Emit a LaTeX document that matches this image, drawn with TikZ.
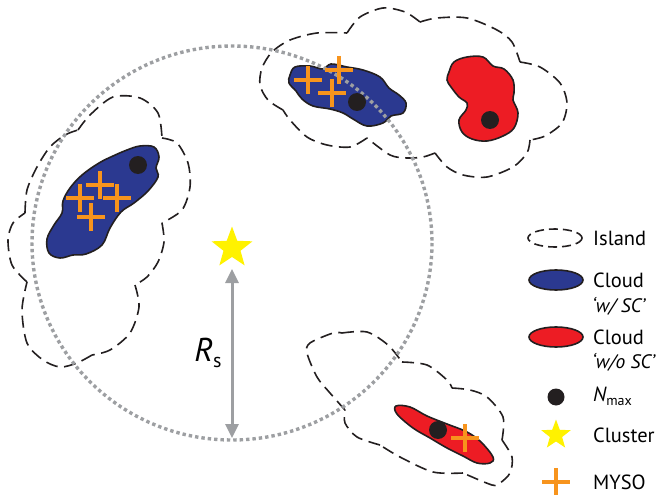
\documentclass[tikz,border=0pt]{standalone}
\usepackage{fontspec}
\setmainfont{PT Sans}
\usetikzlibrary{shapes.geometric,arrows.meta}
\definecolor{cblue}{HTML}{2B3990}
\definecolor{cred}{HTML}{ED1C24}
\definecolor{cyellow}{HTML}{FFF200}
\definecolor{corange}{HTML}{F7941D}
\definecolor{cgray}{HTML}{9D9FA2}
\definecolor{cdark}{HTML}{231F20}
\tikzset{
  island/.style={draw=cdark, line width=1.6pt, dash pattern=on 12pt off 6.5pt, line cap=butt},
  blueblob/.style={draw=cdark, line width=1.6pt, fill=cblue},
  redblob/.style={draw=cdark, line width=1.6pt, fill=cred},
  nmaxdot/.style={circle, fill=cdark, minimum size=18pt, inner sep=0pt},
  starnode/.style={star, star points=5, star point ratio=2.4, fill=cyellow, inner sep=0pt},
  crossline/.style={draw=corange, line width=3.4pt},
  myso/.pic={\draw[crossline] (-14,0) -- (14,0) (0,-14) -- (0,14);},
  legtext/.style={anchor=west, inner sep=0pt, font=\fontsize{20.5}{22}\selectfont},
  legsub/.style={anchor=west, inner sep=0pt, font=\itshape\fontsize{19.5}{21}\selectfont},
}
\begin{document}
\begin{tikzpicture}[x=1pt,y=-1pt]
\useasboundingbox (0,0) rectangle (662,495);

% ---------- islands ----------
% left island
\draw[island] plot[smooth] coordinates {(78,130) (90,115) (113,97) (140,98) (158,113) (162,138)};
\draw[island] plot[smooth] coordinates {(162,138) (177,143) (188,163) (190,187) (182,210) (162,223)};
\draw[island] plot[smooth] coordinates {(162,223) (164,242) (158,262) (147,277) (135,285)};
\draw[island] plot[smooth] coordinates {(135,285) (139,307) (130,333) (110,350) (92,355)};
\draw[island] plot[smooth] coordinates {(92,355) (77,363) (60,367) (43,360) (27,343) (22,310) (27,282)};
\draw[island] plot[smooth] coordinates {(27,282) (12,265) (8,240) (13,223) (25,213)};
\draw[island] plot[smooth] coordinates {(25,213) (27,190) (37,167) (50,147) (65,135) (78,130)};
% top island
\draw[island] plot[smooth] coordinates {(283,110) (268,100) (260,85) (262,68) (272,52) (290,40) (317,33) (347,33)};
\draw[island] plot[smooth] coordinates {(347,33) (360,17) (383,8) (405,12) (420,22)};
\draw[island] plot[smooth] coordinates {(420,22) (437,18) (467,18) (497,30) (512,42) (520,62)};
\draw[island] plot[smooth] coordinates {(520,62) (540,67) (560,83) (567,103) (562,123) (545,136) (530,140)};
\draw[island] plot[smooth] coordinates {(530,140) (527,153) (513,167) (487,177) (463,175) (447,167) (435,153)};
\draw[island] plot[smooth] coordinates {(435,153) (423,157) (407,158) (390,155) (367,138)};
\draw[island] plot[smooth] coordinates {(367,138) (350,147) (327,145) (307,137) (290,120) (283,110)};
% bottom island
\draw[island] plot[smooth] coordinates {(342,333) (367,332) (388,345) (402,362)};
\draw[island] plot[smooth] coordinates {(402,362) (427,365) (447,380) (452,388)};
\draw[island] plot[smooth] coordinates {(452,388) (470,390) (487,397) (503,417) (502,440)};
\draw[island] plot[smooth] coordinates {(502,440) (512,457) (510,473) (500,483) (492,485) (463,473)};
\draw[island] plot[smooth] coordinates {(463,473) (433,472) (400,457) (380,445)};
\draw[island] plot[smooth] coordinates {(380,445) (357,437) (345,423) (345,410)};
\draw[island] plot[smooth] coordinates {(345,410) (330,393) (317,377) (307,353) (310,343) (333,333) (342,333)};

% ---------- clouds ----------
\draw[blueblob] plot[smooth cycle, tension=0.6] coordinates {(140,146) (154,147) (159,157) (156,168) (158,177) (148,191) (134,203) (121,212) (110,228) (102,245) (86,254) (73,255) (60,258) (49,253) (47,239) (54,225) (62,213) (63,201) (70,188) (82,175) (99,163) (113,156) (127,150)};
\draw[blueblob] plot[smooth cycle, tension=0.6] coordinates {(290,75) (295,67) (310,66) (323,69) (331,64) (347,67) (363,70) (380,77) (389,88) (399,95) (406,103) (403,113) (391,116) (383,123) (367,126) (353,119) (343,113) (330,109) (313,106) (302,99) (296,91) (289,83)};
\draw[redblob] plot[smooth cycle, tension=0.6] coordinates {(449,72) (454,62) (467,57) (483,57) (493,66) (504,69) (513,80) (514,93) (513,100) (518,113) (514,128) (503,136) (487,141) (472,139) (462,132) (459,120) (466,110) (467,103) (459,97) (451,87) (447,80)};
\draw[redblob] plot[smooth cycle, tension=0.6] coordinates {(396,406) (410,407) (427,416) (447,424) (467,432) (481,442) (493,457) (490,463) (477,463) (463,456) (447,448) (430,438) (413,428) (397,414)};

% ---------- search radius circle ----------
\draw[cgray, line width=3.4pt, dash pattern=on 3.4pt off 3pt] (232,243) ellipse [x radius=200, y radius=197];

% ---------- Nmax dots ----------
\node[nmaxdot] (d1) at (138,165) {};
\node[nmaxdot] (d2) at (357,102) {};
\node[nmaxdot] (d3) at (490,120) {};
\node[nmaxdot] (d4) at (438,430) {};

% ---------- MYSOs ----------
\pic at (100,185) {myso};
\pic at (80,198) {myso};
\pic at (117,198) {myso};
\pic at (91,217) {myso};
\pic at (308,80) {myso};
\pic at (339,70) {myso};
\pic at (332,93) {myso};
\pic at (465,438) {myso};

% ---------- cluster and radius ----------
\node[starnode, minimum size=43pt] (cluster) at (232,248) {};
\coordinate (rstop) at (232,269);
\coordinate (rsbot) at (232,438);
\draw[cgray, line width=3pt, {Triangle[width=13pt,length=14pt]}-{Triangle[width=13pt,length=14pt]}] (rstop) -- (rsbot);
\node[inner sep=0pt] (rs) at (208,353) {{\fontsize{33}{33}\selectfont\itshape R}{\fontsize{20}{20}\selectfont\raisebox{-6pt}{s}}};

% ---------- legend ----------
\draw[island, dash pattern=on 9pt off 5pt] (555,238) ellipse [x radius=27, y radius=9];
\node[legtext] (lisland) at (593,238) {Island};
\draw[blueblob] (556,280) ellipse [x radius=27, y radius=10];
\node[legtext] (lcloud1) at (593,280) {Cloud};
\node[legsub] (lsub1) at (592,306) {‘w/ SC’};
\draw[redblob] (556,337) ellipse [x radius=27, y radius=10];
\node[legtext] (lcloud2) at (593,337) {Cloud};
\node[legsub] (lsub2) at (592,362) {‘w/o SC’};
\node[nmaxdot, minimum size=17pt] (ldot) at (556,397) {};
\node[legtext] (lnmax) at (593,396) {{\itshape N}{\fontsize{14}{14}\selectfont\raisebox{-4pt}{max}}};
\node[starnode, minimum size=31pt] (lstar) at (556,435) {};
\node[legtext] (lcluster) at (593,435) {Cluster};
\pic at (556,482) {myso};
\node[legtext] (lmyso) at (593,482) {MYSO};
\end{tikzpicture}
\end{document}
